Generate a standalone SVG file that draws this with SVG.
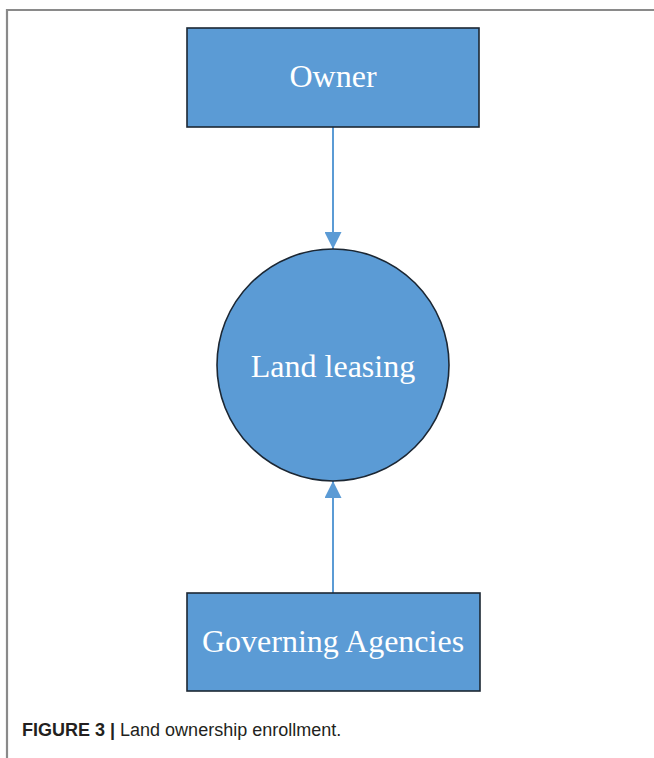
<svg xmlns="http://www.w3.org/2000/svg" width="654" height="758" viewBox="0 0 654 758">
  <style>
    .box { fill: #5b9bd5; stroke: #1c2733; stroke-width: 1.6; }
    .label { font-family: "Liberation Serif", "Times New Roman", serif; font-size: 32px; fill: #ffffff; text-anchor: middle; }
    .link { stroke: #5b9bd5; stroke-width: 2; fill: none; }
    .frame { stroke: #8a8a8a; stroke-width: 2.2; fill: none; }
    .cap { font-family: "Liberation Sans", Arial, sans-serif; font-size: 18px; fill: #231f20; }
  </style>
  <defs>
    <marker id="tip" viewBox="0 0 10 10" refX="10" refY="5" markerWidth="17" markerHeight="17" markerUnits="userSpaceOnUse" orient="auto">
      <path d="M0,0 L10,5 L0,10 Z" fill="#5b9bd5"/>
    </marker>
  </defs>

  <rect width="654" height="758" fill="#ffffff"/>
  <!-- figure frame -->
  <path class="frame" d="M7,758 V10 H654"/>

  <!-- connectors -->
  <g id="connectors">
    <line class="link" x1="333" y1="127" x2="333" y2="249" marker-end="url(#tip)"/>
    <line class="link" x1="333" y1="593" x2="333" y2="481" marker-end="url(#tip)"/>
  </g>

  <g id="owner">
    <rect class="box" x="187" y="28" width="292" height="99"/>
    <text class="label" x="333" y="87">Owner</text>
  </g>

  <g id="land-leasing">
    <circle class="box" cx="333" cy="365" r="116"/>
    <text class="label" x="333" y="377">Land leasing</text>
  </g>

  <g id="governing-agencies">
    <rect class="box" x="187" y="593" width="293" height="98"/>
    <text class="label" x="333" y="652">Governing Agencies</text>
  </g>

  <text class="cap" x="22" y="736"><tspan font-weight="bold">FIGURE 3 |</tspan> Land ownership enrollment.</text>
</svg>
